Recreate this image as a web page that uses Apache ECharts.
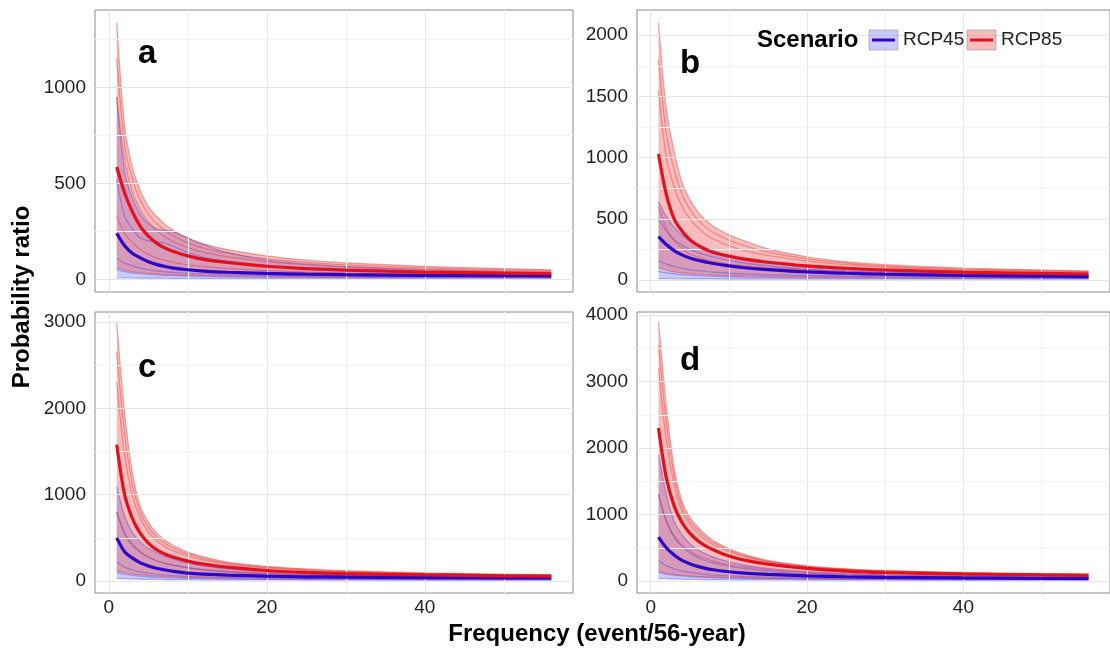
<!DOCTYPE html>
<html>
<head>
<meta charset="utf-8">
<script src="https://cdn.jsdelivr.net/npm/echarts@6/dist/echarts.min.js"></script>
<style>
  body { margin: 0; background: #fff; }
  #main { width: 1110px; height: 651px; }
</style>
</head>
<body>
<div id="main"></div>
<script>
// frequency (event/56-year) sample points
const X = [1, 2, 3, 4, 5, 6, 7, 8, 10, 12, 15, 20, 25, 30, 40, 50, 56];

// panel a
const redMeanA = [585, 450, 350, 275, 225, 190, 165, 148, 122, 104, 88, 68, 56, 48, 38, 32, 29];
const redTopA  = [1340, 800, 580, 460, 380, 330, 290, 260, 215, 185, 155, 122, 100, 86, 68, 56, 50];
const redLowA  = [60, 48, 40, 35, 31, 28, 26, 24, 21, 19, 17, 15, 13, 12, 11, 10, 10];
const redM1A   = [950, 620, 450, 360, 300, 255, 225, 200, 165, 140, 118, 92, 76, 65, 52, 44, 40];
const redM2A   = [330, 240, 190, 155, 130, 112, 100, 90, 76, 66, 56, 45, 38, 33, 27, 23, 21];
const redM3A   = [1150, 700, 520, 410, 340, 292, 258, 230, 190, 162, 136, 107, 88, 75, 60, 50, 46];
const blueMeanA = [240, 175, 135, 112, 92, 78, 68, 60, 50, 43, 37, 31, 27, 24, 21, 19, 18];
const blueTopA  = [950, 560, 420, 340, 290, 265, 255, 250, 215, 180, 140, 100, 80, 66, 50, 40, 36];
const blueLowA  = [8, 7, 7, 6, 6, 6, 6, 5, 5, 5, 5, 5, 5, 5, 5, 5, 5];
const blueM1A   = [520, 330, 260, 215, 200, 195, 190, 175, 140, 115, 92, 70, 58, 48, 38, 32, 29];
const blueM2A   = [110, 85, 70, 58, 50, 44, 40, 36, 31, 28, 25, 21, 19, 17, 15, 14, 13];
const blueM3A   = [50, 40, 34, 29, 26, 23, 21, 20, 18, 16, 14, 12, 11, 10, 9, 9, 8];

// panel b
const redMeanB = [1030, 700, 500, 400, 330, 285, 250, 225, 195, 170, 145, 115, 96, 82, 65, 54, 49];
const redTopB  = [2100, 1400, 1050, 800, 660, 560, 490, 440, 370, 320, 255, 190, 150, 125, 98, 82, 75];
const redLowB  = [100, 80, 66, 58, 52, 47, 43, 40, 35, 32, 29, 25, 23, 21, 19, 17, 16];
const redM1B   = [1550, 1000, 760, 600, 500, 430, 375, 335, 280, 240, 200, 155, 125, 105, 83, 70, 63];
const redM2B   = [600, 420, 320, 260, 215, 188, 168, 152, 130, 115, 100, 82, 70, 61, 50, 43, 39];
const redM3B   = [1800, 1200, 900, 700, 580, 495, 432, 388, 325, 280, 228, 172, 138, 115, 90, 76, 69];
const blueMeanB = [355, 290, 240, 205, 180, 162, 148, 135, 115, 100, 85, 66, 55, 47, 37, 31, 28];
const blueTopB  = [640, 520, 430, 370, 320, 290, 265, 240, 200, 170, 140, 105, 85, 72, 55, 45, 40];
const blueLowB  = [12, 11, 10, 10, 9, 9, 9, 9, 8, 8, 8, 8, 8, 8, 8, 8, 8];
const blueM1B   = [500, 400, 330, 285, 250, 225, 205, 188, 160, 138, 115, 88, 72, 62, 48, 40, 36];
const blueM2B   = [160, 130, 110, 95, 85, 77, 70, 64, 56, 50, 44, 37, 32, 29, 25, 22, 21];
const blueM3B   = [70, 58, 50, 44, 40, 36, 33, 31, 27, 24, 21, 18, 16, 15, 13, 12, 12];

// panel c
const redMeanC = [1580, 1000, 720, 550, 440, 365, 315, 280, 230, 195, 160, 122, 100, 86, 70, 60, 56];
const redTopC  = [3000, 1950, 1250, 860, 680, 560, 480, 420, 335, 280, 220, 170, 140, 120, 95, 80, 72];
const redLowC  = [120, 95, 80, 70, 62, 56, 52, 48, 42, 38, 34, 30, 27, 25, 22, 20, 19];
const redM1C   = [2300, 1450, 980, 720, 570, 470, 405, 355, 290, 242, 195, 150, 122, 104, 83, 70, 64];
const redM2C   = [800, 560, 430, 340, 280, 238, 208, 185, 155, 133, 112, 88, 74, 64, 53, 46, 43];
const redM3C   = [2650, 1700, 1110, 790, 625, 515, 442, 388, 312, 260, 207, 160, 131, 112, 89, 75, 68];
const blueMeanC = [500, 340, 265, 210, 175, 148, 130, 115, 92, 80, 68, 56, 49, 45, 40, 37, 36];
const blueTopC  = [1100, 750, 560, 450, 380, 330, 290, 260, 210, 175, 140, 105, 85, 72, 58, 50, 46];
const blueLowC  = [30, 26, 23, 21, 19, 18, 17, 16, 15, 14, 13, 12, 11, 11, 10, 10, 10];
const blueM1C   = [800, 540, 410, 330, 275, 235, 208, 186, 152, 128, 105, 82, 68, 59, 49, 43, 40];
const blueM2C   = [220, 160, 128, 105, 90, 78, 70, 63, 53, 47, 41, 35, 31, 29, 26, 24, 23];
const blueM3C   = [100, 78, 64, 55, 48, 43, 39, 36, 31, 28, 25, 21, 19, 18, 16, 15, 15];

// panel d
const redMeanD = [2300, 1550, 1130, 880, 720, 610, 530, 470, 375, 315, 255, 190, 150, 128, 105, 92, 86];
const redTopD  = [3900, 2650, 1700, 1200, 960, 820, 700, 610, 490, 400, 310, 230, 185, 160, 130, 112, 105];
const redLowD  = [150, 120, 100, 88, 78, 70, 64, 60, 52, 47, 42, 36, 32, 30, 27, 25, 24];
const redM1D   = [3200, 2100, 1450, 1050, 850, 720, 620, 545, 440, 365, 290, 215, 170, 145, 118, 102, 95];
const redM2D   = [1300, 900, 680, 540, 450, 385, 338, 300, 245, 208, 170, 130, 106, 92, 77, 68, 64];
const redM3D   = [3550, 2380, 1580, 1120, 900, 770, 660, 578, 465, 382, 300, 222, 178, 152, 124, 107, 100];
const blueMeanD = [660, 500, 390, 310, 260, 220, 190, 170, 140, 120, 100, 78, 64, 55, 46, 41, 39];
const blueTopD  = [1900, 1300, 900, 700, 560, 470, 410, 360, 290, 240, 190, 140, 110, 92, 72, 60, 55];
const blueLowD  = [40, 34, 30, 27, 25, 23, 22, 21, 19, 18, 17, 15, 14, 13, 12, 12, 11];
const blueM1D   = [1300, 900, 660, 520, 420, 355, 308, 272, 222, 186, 150, 112, 90, 76, 60, 51, 47];
const blueM2D   = [300, 230, 185, 152, 130, 113, 100, 90, 76, 67, 58, 48, 42, 38, 33, 30, 29];
const blueM3D   = [130, 105, 88, 76, 67, 60, 55, 51, 45, 40, 35, 29, 26, 24, 21, 20, 19];

// axis ticks
const xTicks = [0, 20, 40];
const xMinor = [10, 30, 50];
const yTicksA = [0, 500, 1000];
const yTicksB = [0, 500, 1000, 1500, 2000];
const yTicksC = [0, 1000, 2000, 3000];
const yTicksD = [0, 1000, 2000, 3000, 4000];

const panels = [
  { letter: 'a', grid: { left: 95, top: 10, width: 478, height: 282 }, y: [-66, 1403], ticks: yTicksA, step: 500,
    red: [redMeanA, redTopA, redLowA, redM1A, redM2A, redM3A], blue: [blueMeanA, blueTopA, blueLowA, blueM1A, blueM2A, blueM3A], lx: 148, ly: 55 },
  { letter: 'b', grid: { left: 637, top: 10, width: 478, height: 282 }, y: [-98, 2206], ticks: yTicksB, step: 500,
    red: [redMeanB, redTopB, redLowB, redM1B, redM2B, redM3B], blue: [blueMeanB, blueTopB, blueLowB, blueM1B, blueM2B, blueM3B], lx: 690, ly: 65 },
  { letter: 'c', grid: { left: 95, top: 312, width: 478, height: 281 }, y: [-139, 3117], ticks: yTicksC, step: 1000,
    red: [redMeanC, redTopC, redLowC, redM1C, redM2C, redM3C], blue: [blueMeanC, blueTopC, blueLowC, blueM1C, blueM2C, blueM3C], lx: 148, ly: 369 },
  { letter: 'd', grid: { left: 637, top: 312, width: 478, height: 281 }, y: [-180, 4045], ticks: yTicksD, step: 1000,
    red: [redMeanD, redTopD, redLowD, redM1D, redM2D, redM3D], blue: [blueMeanD, blueTopD, blueLowD, blueM1D, blueM2D, blueM3D], lx: 690, ly: 362 }
];

const RED = '#e3101e', BLUE = '#2c06c8';
const RED_FILL = 'rgba(238,60,60,0.34)', BLUE_FILL = 'rgba(70,70,240,0.28)';
const RED_MEMBER = 'rgba(228,40,40,0.4)', BLUE_MEMBER = 'rgba(60,60,225,0.4)';
const TXT = '#222';

function pts(arr) { return X.map((x, i) => [x, arr[i]]); }

const grids = [], xAxes = [], yAxes = [], series = [], graphic = [];

panels.forEach(function (p, i) {
  grids.push(Object.assign({ show: true, borderColor: '#8a8a8a', borderWidth: 1, backgroundColor: '#fff' }, p.grid));
  xAxes.push({
    type: 'value', gridIndex: i, min: -1.75, max: 58.75,
    axisLine: { show: false }, splitLine: { show: false },
    axisTick: { show: true, length: 5, customValues: xTicks, lineStyle: { color: '#333' } },
    axisLabel: { show: i >= 2, customValues: xTicks, fontSize: 19, color: TXT, margin: 5, fontFamily: 'Liberation Sans',
      formatter: v => String(v) }
  });
  yAxes.push({
    type: 'value', gridIndex: i, min: p.y[0], max: p.y[1],
    axisLine: { show: false }, splitLine: { show: false },
    axisTick: { show: true, length: 5, customValues: p.ticks, lineStyle: { color: '#333' } },
    axisLabel: { customValues: p.ticks, fontSize: 19, color: TXT, margin: 9, fontFamily: 'Liberation Sans',
      formatter: v => String(v) }
  });

  const yMinor = p.ticks.map(v => v + p.step / 2).filter(v => v < p.y[1]);
  const gl = [];
  xTicks.forEach(v => gl.push({ xAxis: v, lineStyle: { color: '#e6e6e6', width: 1 } }));
  xMinor.forEach(v => gl.push({ xAxis: v, lineStyle: { color: '#f3f3f3', width: 1 } }));
  p.ticks.forEach(v => gl.push({ yAxis: v, lineStyle: { color: '#e6e6e6', width: 1 } }));
  yMinor.forEach(v => gl.push({ yAxis: v, lineStyle: { color: '#f3f3f3', width: 1 } }));
  series.push({
    type: 'line', xAxisIndex: i, yAxisIndex: i, data: [[X[0], 0]], symbol: 'none', silent: true, z: 0,
    lineStyle: { opacity: 0 },
    markLine: { silent: true, symbol: ['none', 'none'], label: { show: false }, animation: false,
      lineStyle: { type: 'solid' }, data: gl }
  });

  // band = lower edge + stacked (top - low); values put first so the stack runs on y
  function band(set, fill, member, key) {
    const top = set[1], low = set[2];
    series.push({ type: 'line', xAxisIndex: i, yAxisIndex: i, stack: key + i,
      data: X.map((x, j) => [low[j], x]), encode: { x: 1, y: 0 },
      symbol: 'none', smooth: 0.3, silent: true, lineStyle: { opacity: 0 }, z: 2 });
    series.push({ type: 'line', xAxisIndex: i, yAxisIndex: i, stack: key + i,
      data: X.map((x, j) => [top[j] - low[j], x]), encode: { x: 1, y: 0 },
      symbol: 'none', smooth: 0.3, silent: true, lineStyle: { opacity: 0 },
      areaStyle: { color: fill, opacity: 1 }, z: 2 });
    [top, set[3], set[4], set[5], low].forEach(function (m) {
      series.push({ type: 'line', xAxisIndex: i, yAxisIndex: i, data: pts(m), symbol: 'none', smooth: 0.3,
        silent: true, lineStyle: { color: member, width: 1.2 }, z: 3 });
    });
  }
  band(p.blue, BLUE_FILL, BLUE_MEMBER, 'blue');
  band(p.red, RED_FILL, RED_MEMBER, 'red');

  series.push({ type: 'line', xAxisIndex: i, yAxisIndex: i, data: pts(p.blue[0]), symbol: 'none', smooth: 0.3,
    silent: true, lineStyle: { color: BLUE, width: 3.2 }, z: 5 });
  series.push({ type: 'line', xAxisIndex: i, yAxisIndex: i, data: pts(p.red[0]), symbol: 'none', smooth: 0.3,
    silent: true, lineStyle: { color: RED, width: 3.2 }, z: 6 });

  graphic.push({ type: 'text', left: p.lx - 10, top: p.ly - 18, z: 10,
    style: { text: p.letter, font: 'bold 33px "Liberation Sans"', fill: '#000' } });
});

// axis titles
graphic.push({ type: 'text', x: 22, y: 297, rotation: Math.PI / 2, z: 10,
  style: { text: 'Probability ratio', font: 'bold 24px "Liberation Sans"', fill: '#000', align: 'center', verticalAlign: 'middle' } });
graphic.push({ type: 'text', x: 597, y: 634, z: 10,
  style: { text: 'Frequency (event/56-year)', font: 'bold 24px "Liberation Sans"', fill: '#000', align: 'center', verticalAlign: 'middle' } });

// legend
graphic.push({ type: 'text', x: 757, y: 40, z: 10,
  style: { text: 'Scenario', font: 'bold 24px "Liberation Sans"', fill: '#000', verticalAlign: 'middle' } });
[['RCP45', 869, BLUE_FILL, BLUE], ['RCP85', 967, RED_FILL, RED]].forEach(function (k) {
  graphic.push({ type: 'rect', shape: { x: k[1], y: 30, width: 29, height: 20 }, z: 10,
    style: { fill: k[2], stroke: 'rgba(150,150,150,0.6)', lineWidth: 1 } });
  graphic.push({ type: 'line', shape: { x1: k[1] + 3, y1: 40, x2: k[1] + 26, y2: 40 }, z: 11,
    style: { stroke: k[3], lineWidth: 3 } });
  graphic.push({ type: 'text', x: k[1] + 34, y: 40, z: 11,
    style: { text: k[0], font: '19px "Liberation Sans"', fill: TXT, verticalAlign: 'middle' } });
});

const chart = echarts.init(document.getElementById('main'));
chart.setOption({
  animation: false,
  grid: grids,
  xAxis: xAxes,
  yAxis: yAxes,
  series: series,
  graphic: graphic
});
</script>
</body>
</html>
